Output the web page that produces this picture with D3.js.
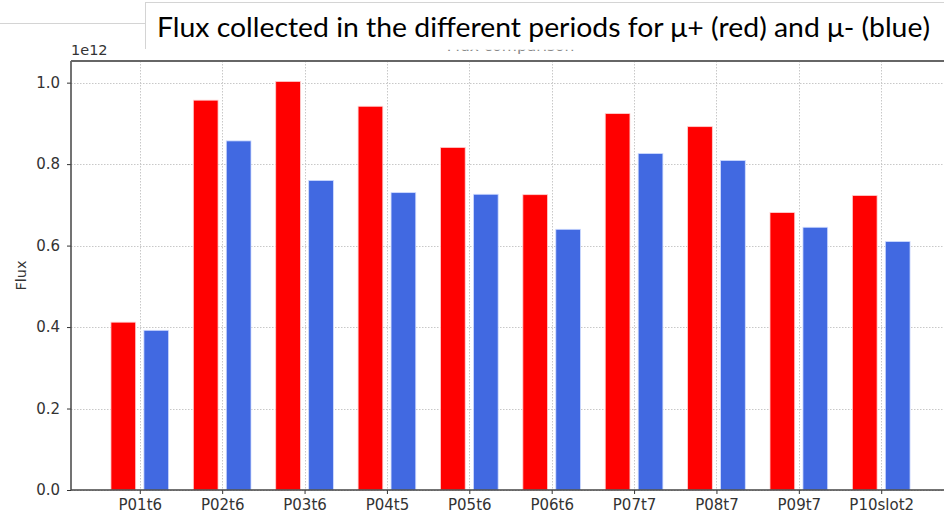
<!DOCTYPE html>
<html>
<head>
<meta charset="utf-8">
<script src="https://cdn.jsdelivr.net/npm/d3@7"></script>
<style>
  html, body { margin: 0; padding: 0; background: #fff; }
  svg { display: block; }
</style>
</head>
<body>
<svg id="chart" width="944" height="515"></svg>
<script>
// Periods and flux per period (units of 1e12)
const periods = ["P01t6", "P02t6", "P03t6", "P04t5", "P05t6", "P06t6", "P07t7", "P08t7", "P09t7", "P10slot2"];
const fluxMuPlus  = [0.412, 0.957, 1.003, 0.942, 0.841, 0.725, 0.924, 0.892, 0.681, 0.723];
const fluxMuMinus = [0.392, 0.857, 0.760, 0.730, 0.726, 0.640, 0.826, 0.809, 0.645, 0.610];
const yTicks = [0.0, 0.2, 0.4, 0.6, 0.8, 1.0];
const scaleExp = 1e12;

(function draw() {
  const svg = d3.select("#chart");
  const plotL = 71, plotR = 950, plotT = 61, plotB = 490;

  const barW = 0.3, off = 0.2;
  const xMin = -off - barW / 2, xMax = periods.length - 1 + off + barW / 2;
  const xPad = (xMax - xMin) * 0.05;
  const x = d3.scaleLinear().domain([xMin - xPad, xMax + xPad]).range([plotL, plotR]);

  const yMaxData = d3.max(fluxMuPlus.concat(fluxMuMinus));
  const y = d3.scaleLinear().domain([0, yMaxData * 1.05 * scaleExp]).range([plotB, plotT]);

  const font = "'DejaVu Sans', sans-serif";
  const tickFont = 15;

  // Axes title, mostly hidden by the caption box drawn later
  const defs = svg.append("defs");
  defs.append("clipPath").attr("id", "titleClip")
    .append("rect").attr("x", 0).attr("y", 49.5).attr("width", 944).attr("height", 10);
  svg.append("text")
    .attr("clip-path", "url(#titleClip)")
    .attr("x", (plotL + plotR) / 2).attr("y", 50.5)
    .attr("text-anchor", "middle")
    .attr("font-family", font).attr("font-size", 15.5)
    .attr("fill", "#888")
    .text("Flux comparison");

  // Grid lines
  const grid = svg.append("g").attr("stroke", "#c8c8c8").attr("stroke-width", 1).attr("stroke-dasharray", "1.5,1.5");
  yTicks.forEach(t => {
    const yy = Math.round(y(t * scaleExp)) + 0.5;
    grid.append("line").attr("x1", plotL).attr("x2", plotR).attr("y1", yy).attr("y2", yy);
  });
  periods.forEach((p, i) => {
    const xx = Math.round(x(i)) + 0.5;
    grid.append("line").attr("x1", xx).attr("x2", xx).attr("y1", plotT).attr("y2", plotB);
  });

  // Bars
  const bars = svg.append("g");
  bars.selectAll("rect.plus").data(fluxMuPlus).join("rect")
    .attr("class", "plus")
    .attr("x", (d, i) => x(i - off - barW / 2))
    .attr("width", (d, i) => x(i - off + barW / 2) - x(i - off - barW / 2))
    .attr("y", d => y(d * scaleExp))
    .attr("height", d => plotB - y(d * scaleExp))
    .attr("fill", "#ff0000")
    .attr("stroke", "#ffd0d0").attr("stroke-width", 0.8);
  bars.selectAll("rect.minus").data(fluxMuMinus).join("rect")
    .attr("class", "minus")
    .attr("x", (d, i) => x(i + off - barW / 2))
    .attr("width", (d, i) => x(i + off + barW / 2) - x(i + off - barW / 2))
    .attr("y", d => y(d * scaleExp))
    .attr("height", d => plotB - y(d * scaleExp))
    .attr("fill", "#4169e1")
    .attr("stroke", "#d0dcff").attr("stroke-width", 0.8);

  // Y axis
  const yAxis = d3.axisLeft(y)
    .tickValues(yTicks.map(t => t * scaleExp))
    .tickFormat(v => (v / scaleExp).toFixed(1))
    .tickSize(4).tickPadding(7);
  const gy = svg.append("g").attr("transform", `translate(${plotL},0)`).call(yAxis);
  gy.select(".domain").remove();
  gy.selectAll("line").attr("stroke", "#333");
  gy.selectAll("text").attr("font-family", font).attr("font-size", tickFont).attr("fill", "#333");

  // X axis
  const xAxis = d3.axisBottom(x)
    .tickValues(d3.range(periods.length))
    .tickFormat(i => periods[i])
    .tickSize(4).tickPadding(5);
  const gx = svg.append("g").attr("transform", `translate(0,${plotB})`).call(xAxis);
  gx.select(".domain").remove();
  gx.selectAll("line").attr("stroke", "#333");
  gx.selectAll("text").attr("font-family", font).attr("font-size", tickFont).attr("fill", "#333");

  // Spines
  svg.append("line").attr("x1", plotL).attr("x2", plotL).attr("y1", plotT).attr("y2", plotB)
    .attr("stroke", "#444").attr("stroke-width", 1.5);
  svg.append("line").attr("x1", plotL).attr("x2", plotR).attr("y1", plotB).attr("y2", plotB)
    .attr("stroke", "#444").attr("stroke-width", 1.5);
  svg.append("line").attr("x1", plotL).attr("x2", plotR).attr("y1", plotT).attr("y2", plotT)
    .attr("stroke", "#666").attr("stroke-width", 2);

  // Offset label and y label
  svg.append("text").attr("x", plotL).attr("y", 54.5)
    .attr("font-family", font).attr("font-size", 14.5).attr("fill", "#333")
    .text("1e12");
  svg.append("text")
    .attr("transform", `translate(26,${(plotT + plotB) / 2}) rotate(-90)`)
    .attr("text-anchor", "middle")
    .attr("font-family", font).attr("font-size", 14.5).attr("fill", "#333")
    .text("Flux");

  // Caption box
  svg.append("line").attr("x1", 0).attr("x2", 145).attr("y1", 23.5).attr("y2", 23.5)
    .attr("stroke", "#d4d4d4").attr("stroke-width", 1);
  svg.append("rect").attr("x", 145.5).attr("y", 2.5).attr("width", 820).attr("height", 46)
    .attr("fill", "#fff").attr("stroke", "#d4d4d4").attr("stroke-width", 1);
  svg.append("rect").attr("x", 146).attr("y", 24).attr("width", 820).attr("height", 25.5).attr("fill", "#fff");
  svg.append("text")
    .attr("x", 157).attr("y", 37)
    .attr("font-family", "Lato, 'Open Sans', sans-serif").attr("font-size", 27)
    .attr("fill", "#000")
    .attr("textLength", 773).attr("lengthAdjust", "spacingAndGlyphs")
    .text("Flux collected in the different periods for μ+ (red) and μ- (blue)");
})();
</script>
</body>
</html>
